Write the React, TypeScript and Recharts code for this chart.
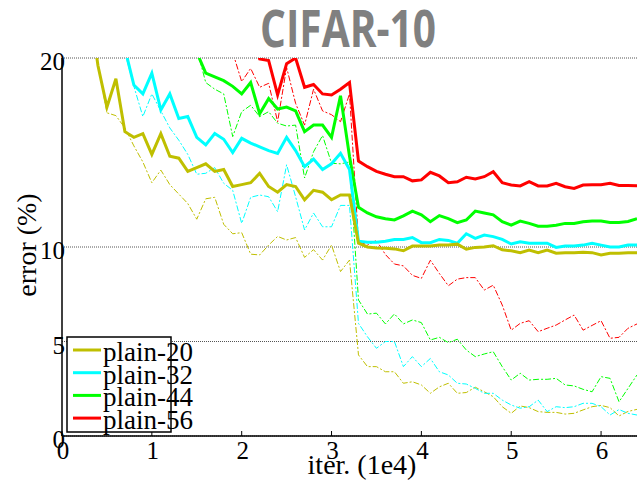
import React from 'react';
import { LineChart, Line, XAxis, YAxis, CartesianGrid, Legend } from 'recharts';

// iterations (1e4)
const iters = [
  0.3, 0.4, 0.5, 0.6, 0.7, 0.8, 0.9, 1.0, 1.1, 1.2, 1.3, 1.4, 1.5, 1.6, 1.7, 1.8, 1.9, 2.0, 2.1, 2.2,
  2.3, 2.4, 2.5, 2.6, 2.7, 2.8, 2.9, 3.0, 3.1, 3.2, 3.3, 3.4, 3.5, 3.6, 3.7, 3.8, 3.9, 4.0, 4.1, 4.2,
  4.3, 4.4, 4.5, 4.6, 4.7, 4.8, 4.9, 5.0, 5.1, 5.2, 5.3, 5.4, 5.5, 5.6, 5.7, 5.8, 5.9, 6.0, 6.1, 6.2,
  6.3, 6.4,
];

// test error (bold) and training error (dash-dot), %
const plain20Test = [
  23, 19.6, 17.4, 18.9, 16.1, 15.8, 16.0, 14.9, 16.0, 14.8, 14.7, 14.0, 14.2, 14.4, 14.0, 14.1, 13.2, 13.3, 13.4, 13.9,
  13.2, 12.9, 13.3, 13.2, 12.5, 13.0, 12.9, 12.5, 12.75, 12.75, 10.2, 10.0, 9.95, 9.93, 9.9, 9.8, 10.05, 10.05, 10.05, 10.1,
  10.1, 10.15, 9.88, 9.98, 10.0, 10.07, 9.85, 9.8, 9.7, 9.84, 9.7, 9.84, 9.67, 9.7, 9.7, 9.72, 9.7, 9.58, 9.67, 9.67,
  9.7, 9.7,
];
const plain20Train = [
  22.5, 19.7, 17.1, 16.95, 16.3, 15.35, 14.5, 13.4, 14.07, 13.3, 12.8, 12.3, 11.47, 12.55, 12.63, 11.2, 10.7, 10.76, 9.62, 9.58,
  10.1, 10.56, 10.37, 10.5, 9.45, 9.86, 9.31, 10.1, 8.7, 9.31, 4.29, 3.67, 3.67, 3.4, 3.4, 2.79, 2.87, 2.7, 2.26, 2.6,
  2.79, 2.26, 2.3, 2.58, 2.34, 2.08, 1.55, 1.2, 1.59, 1.5, 1.29, 1.25, 1.25, 1.16, 1.2, 1.38, 1.55, 1.62, 1.5, 1.06,
  1.3, 1.41,
];
const plain32Test = [
  null, null, null, 23, 20.5, 18.57, 18.1, 19.2, 17.25, 18.1, 16.8, 16.9, 15.8, 15.4, 16.0, 15.7, 15.0, 15.75, 15.5, 15.3,
  15.1, 14.95, 15.8, 15.1, 14.25, 14.65, 14.1, 14.4, 14.96, 14.1, 10.3, 10.25, 10.25, 10.3, 10.4, 10.4, 10.5, 10.23, 10.23, 10.4,
  10.35, 10.2, 10.7, 10.46, 10.63, 10.55, 10.4, 10.16, 10.28, 10.2, 10.2, 10.2, 9.98, 10.05, 10.05, 10.1, 10.2, 10.1, 10.0, 10.0,
  10.1, 10.1,
];
const plain32Train = [
  null, null, null, 23, 20.3, 18.5, 16.9, 18.1, 17.2, 16.3, 15.65, 14.9, 13.85, 13.9, 14.2, 13.37, 13.0, 11.25, 12.63, 12.75,
  12.66, 11.87, 14.35, 12.66, 10.9, 11.8, 11.07, 11.07, 12.2, 12.2, 5.96, 5.25, 4.64, 5.0, 5.0, 3.67, 4.2, 3.67, 4.1, 3.4,
  3.23, 2.79, 2.75, 2.52, 2.26, 2.26, 1.9, 1.64, 1.47, 1.55, 1.9, 1.29, 1.55, 1.5, 1.55, 1.73, 1.73, 1.55, 1.11, 1.4,
  1.2, 1.11,
];
const plain44Test = [
  null, null, null, null, null, null, null, null, null, null, null, 23, 20.3, 19.2, 19.0, 18.8, 18.5, 18.1, 18.7, 17.05,
  17.85, 17.3, 17.4, 17.2, 16.1, 16.45, 16.45, 15.8, 18.0, 14.8, 12.1, 11.8, 11.6, 11.5, 11.43, 11.65, 11.9, 11.7, 11.34, 11.66,
  11.5, 11.29, 11.43, 11.9, 11.8, 11.7, 11.34, 11.16, 11.37, 11.25, 11.1, 11.1, 11.15, 11.25, 11.25, 11.34, 11.37, 11.37, 11.3, 11.3,
  11.35, 11.5,
];
const plain44Train = [
  null, null, null, null, null, null, null, null, null, null, null, 23, 20.5, 18.7, 18.35, 18.1, 15.84, 17.16, 17.5, 16.9,
  17.16, 16.55, 16.4, 16.45, 13.65, 15.04, 15.9, 14.43, 14.4, 14.5, 7.2, 6.45, 6.5, 5.93, 6.46, 5.93, 6.14, 6.0, 5.08, 5.22,
  4.94, 5.12, 4.55, 4.2, 4.34, 4.46, 3.67, 2.96, 3.32, 2.96, 3.0, 3.0, 3.05, 2.7, 2.65, 2.47, 2.34, 3.14, 3.05, 1.81,
  2.52, 3.23,
];
const plain56Test = [
  null, null, null, null, null, null, null, null, null, null, null, null, null, null, null, null, null, null, 21.5, 19.95,
  19.86, 18.05, 19.7, 20.0, 18.45, 18.6, 18.1, 18.04, 18.35, 18.7, 14.55, 14.25, 14.0, 13.85, 13.72, 13.72, 13.5, 13.55, 13.95, 13.76,
  13.4, 13.45, 13.69, 13.6, 13.72, 13.98, 13.4, 13.28, 13.23, 13.46, 13.23, 13.23, 13.37, 13.19, 13.1, 13.28, 13.3, 13.3, 13.37, 13.25,
  13.25, 13.24,
];
const plain56Train = [
  null, null, null, null, null, null, null, null, null, null, null, null, null, null, null, null, 20.3, 18.75, 19.45, 18.45,
  18.66, 16.63, 19.5, 17.6, 16.45, 18.35, 17.2, 17.0, 16.63, 18.1, 10.3, 10.1, 10.35, 9.6, 9.1, 9.0, 8.5, 8.34, 9.3, 8.6,
  7.95, 8.3, 8.38, 8.38, 7.72, 7.98, 6.93, 5.6, 5.96, 6.1, 5.52, 5.7, 5.87, 6.14, 6.4, 5.6, 5.85, 6.1, 5.17, 5.22,
  5.7, 5.93,
];

const seriesNames = ['plain-20', 'plain-32', 'plain-44', 'plain-56'];
const seriesColors = ['#bfbf00', '#00ffff', '#00ff00', '#ff0000'];
const xTicks = [0, 1, 2, 3, 4, 5, 6];
const yTicks = [0, 5, 10, 20];

const data = iters.map((x, i) => ({
  x,
  t20: plain20Test[i],
  r20: plain20Train[i],
  t32: plain32Test[i],
  r32: plain32Train[i],
  t44: plain44Test[i],
  r44: plain44Train[i],
  t56: plain56Test[i],
  r56: plain56Train[i],
}));

const SERIF = '"Liberation Serif", "Times New Roman", serif';

const XTick = (props: any) => {
  const { x, payload } = props;
  return (
    <text x={x + 1} y={459} textAnchor="middle" fontFamily={SERIF} fontSize={25} fill="#000">
      {payload.value}
    </text>
  );
};

const YTick = (props: any) => {
  const { y, payload } = props;
  return (
    <text x={65} y={y + 12} textAnchor="end" fontFamily={SERIF} fontSize={25} fill="#000">
      {payload.value}
    </text>
  );
};

const LegendBox = () => (
  <svg width={110} height={104} style={{ overflow: 'visible', display: 'block' }}>
    <rect x={1} y={1} width={104} height={95} fill="#fff" stroke="#000" strokeWidth={1.5} />
    {seriesNames.map((n, i) => (
      <g key={n}>
        <line x1={7} x2={35} y1={14 + i * 22.7} y2={14 + i * 22.7} stroke={seriesColors[i]} strokeWidth={3} />
        <text x={37} y={25 + i * 22.7} fontFamily={SERIF} fontSize={27} fill="#000">
          {n}
        </text>
      </g>
    ))}
  </svg>
);

export default function App() {
  const dash = '6 2 2 2';
  return (
    <div style={{ position: 'absolute', left: 0, top: 0, width: 637, height: 489, background: '#fff' }}>
      <LineChart width={637} height={489} data={data} margin={{ top: 58, right: 0, bottom: 0, left: 0 }}>
        <CartesianGrid horizontal vertical={false} stroke="#555" strokeDasharray="1 1" />
        <XAxis
          type="number"
          dataKey="x"
          domain={[0, 6.4]}
          ticks={xTicks}
          allowDataOverflow
          height={53}
          axisLine={{ stroke: '#000', strokeWidth: 1.5 }}
          tickLine={{ stroke: '#000' }}
          tickSize={-5}
          tickMargin={9}
          tick={<XTick />}
        />
        <YAxis
          type="number"
          domain={[0, 20]}
          ticks={yTicks}
          allowDataOverflow
          width={62}
          axisLine={{ stroke: '#000', strokeWidth: 1.5 }}
          tickLine={false}
          tickSize={0}
          tick={<YTick />}
        />
        <Legend
          layout="horizontal"
          verticalAlign="middle"
          align="center"
          wrapperStyle={{ position: 'absolute', left: 66, top: 336, width: 110, height: 104 }}
          content={() => <LegendBox />}
        />
        <Line type="linear" dataKey="r20" stroke={seriesColors[0]} strokeWidth={1} strokeDasharray={dash} dot={false} isAnimationActive={false} legendType="none" />
        <Line type="linear" dataKey="r32" stroke={seriesColors[1]} strokeWidth={1} strokeDasharray={dash} dot={false} isAnimationActive={false} legendType="none" />
        <Line type="linear" dataKey="r44" stroke={seriesColors[2]} strokeWidth={1} strokeDasharray={dash} dot={false} isAnimationActive={false} legendType="none" />
        <Line type="linear" dataKey="r56" stroke={seriesColors[3]} strokeWidth={1} strokeDasharray={dash} dot={false} isAnimationActive={false} legendType="none" />
        <Line type="linear" dataKey="t56" stroke={seriesColors[3]} strokeWidth={3} dot={false} isAnimationActive={false} />
        <Line type="linear" dataKey="t44" stroke={seriesColors[2]} strokeWidth={3} dot={false} isAnimationActive={false} />
        <Line type="linear" dataKey="t32" stroke={seriesColors[1]} strokeWidth={3} dot={false} isAnimationActive={false} />
        <Line type="linear" dataKey="t20" stroke={seriesColors[0]} strokeWidth={3} dot={false} isAnimationActive={false} />
      </LineChart>
      <svg width={637} height={489} style={{ position: 'absolute', left: 0, top: 0, pointerEvents: 'none' }}>
        <text x={348} y={47} textAnchor="middle" fontFamily='"Open Sans", sans-serif' fontWeight={700} fontSize={52} fill="#808080" textLength={176} lengthAdjust="spacingAndGlyphs">
          CIFAR-10
        </text>
        <text x={362} y={474} textAnchor="middle" fontFamily={SERIF} fontSize={28} fill="#000">
          iter. (1e4)
        </text>
        <text x={36} y={245} textAnchor="middle" fontFamily={SERIF} fontSize={28} fill="#000" transform="rotate(-90 36 245)">
          error (%)
        </text>
      </svg>
    </div>
  );
}
